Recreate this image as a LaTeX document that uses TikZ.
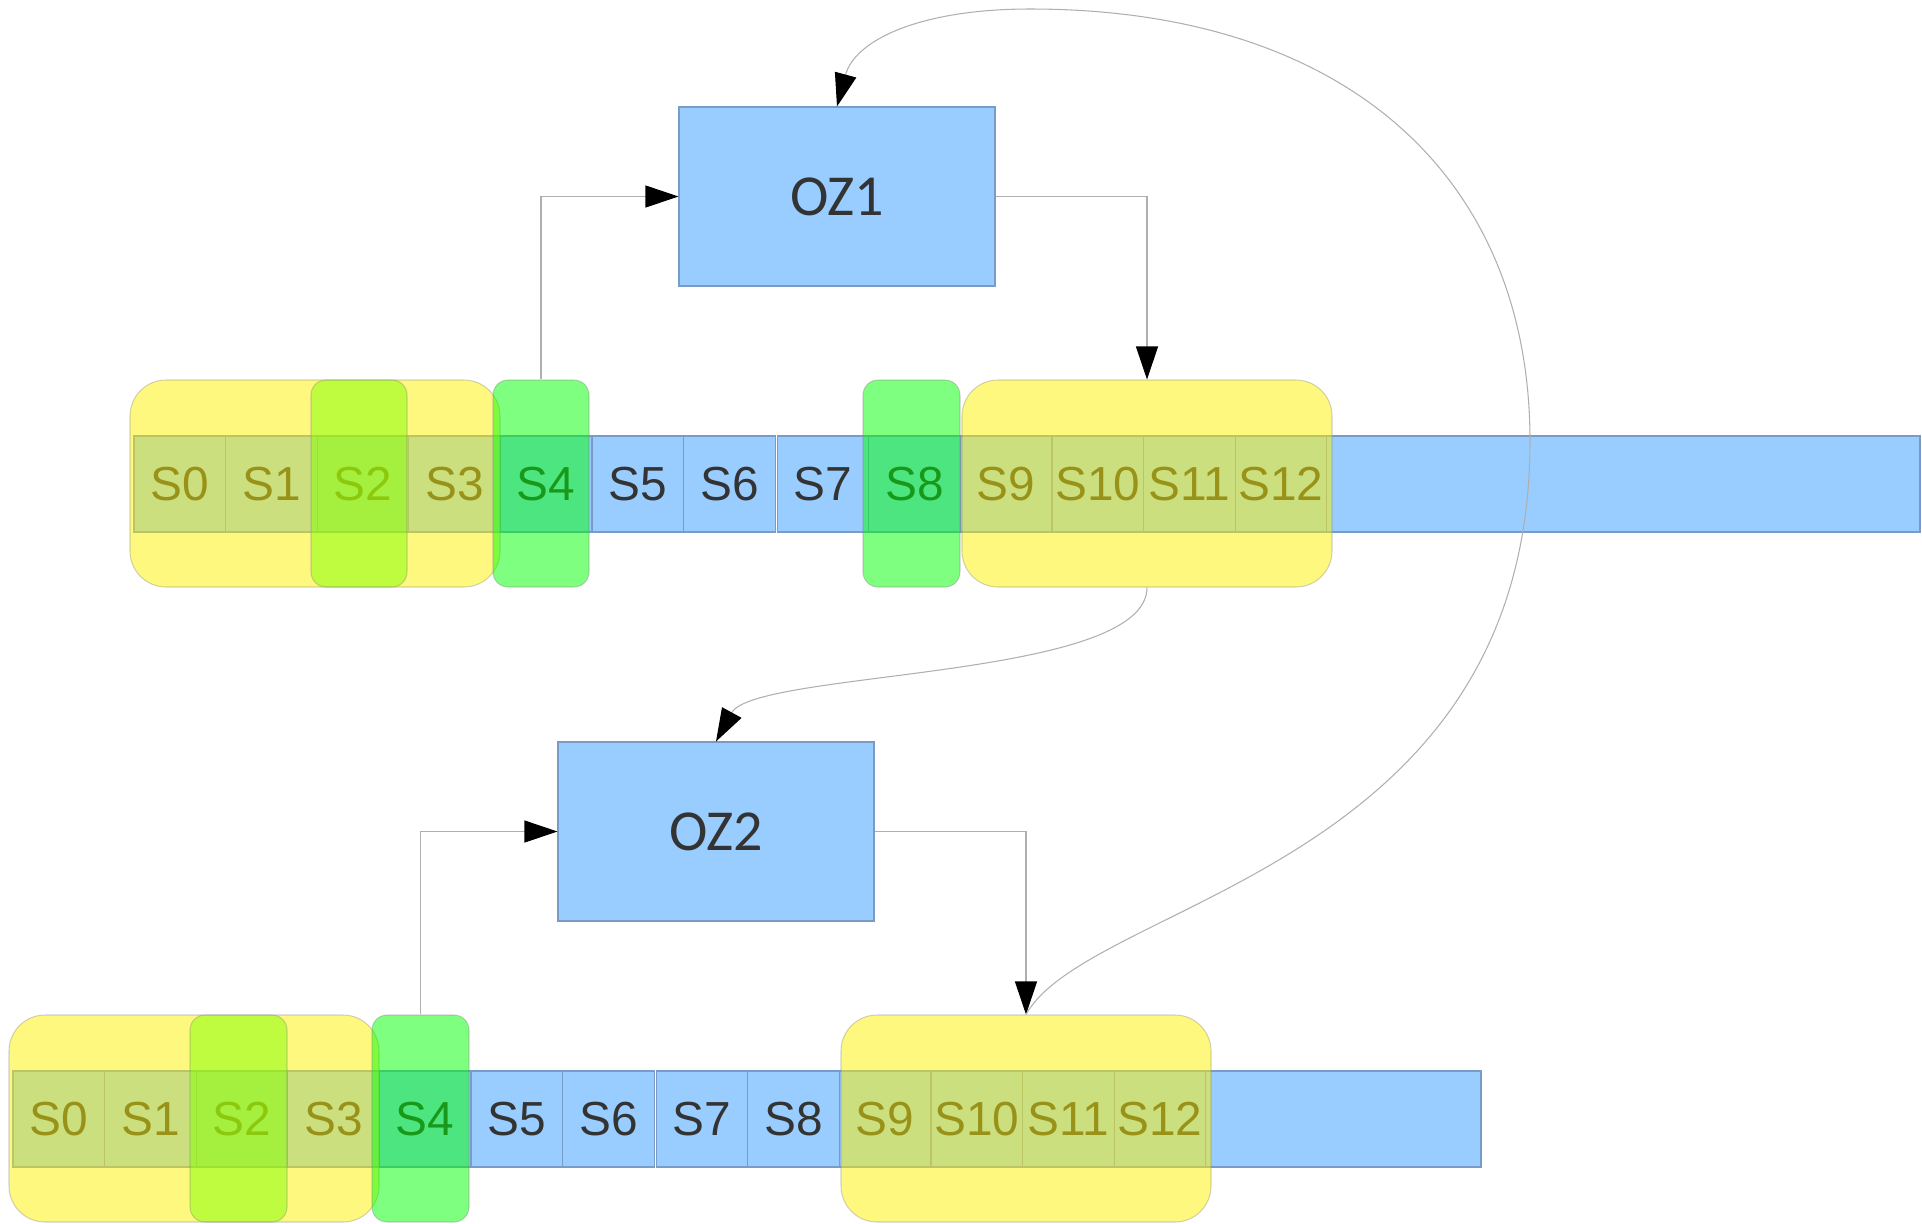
\documentclass[tikz,border=0pt]{standalone}
\usepackage{fontspec}
\usetikzlibrary{arrows.meta}
\newfontfamily\slotfont{Liberation Sans}
\newfontfamily\ozfont{Carlito}
\definecolor{slotBlue}{RGB}{153,204,255}
\definecolor{slotLine}{RGB}{120,155,200}
\definecolor{slotText}{RGB}{51,51,51}
\definecolor{linkGray}{RGB}{175,175,175}
\definecolor{winLime}{RGB}{128,255,0}
\tikzstyle{slot} = [draw=slotLine, line width=0.3pt, fill=slotBlue, rectangle, inner sep=0pt, minimum height=0.96cm, minimum width=0.916cm, text=slotText, font=\slotfont\fontsize{13.6}{16}\selectfont]
\tikzstyle{oz} = [draw=slotLine, line width=0.3pt, fill=slotBlue, rectangle, minimum height=1.79cm, minimum width=3.16cm, text=slotText, font=\ozfont\fontsize{16.5}{20}\selectfont]
\tikzstyle{window} = [draw=black!50, draw opacity=0.35, line width=0.3pt, fill=yellow, fill opacity=0.5, rectangle, rounded corners=0.36cm, minimum height=2.07cm, minimum width=3.70cm]
\tikzstyle{halo} = [window, fill=green, rounded corners=0.15cm, minimum width=0.96cm]
\tikzstyle{pick} = [halo, fill=winLime]
\tikzstyle{link} = [draw=linkGray, line width=0.3pt, ->]

\begin{document}
\begin{tikzpicture}[node distance=0.916cm, >={Triangle[length=0.33cm,width=0.22cm,color=black]}]
    \useasboundingbox (0,0) rectangle (19.22,-12.23);
    % first pass
    \path node [slot] (a0) at (1.798,-4.84) {S0}
          node [slot, right of=a0] (a1) {S1}
          node [slot, right of=a1] (a2) {S2}
          node [slot, right of=a2] (a3) {S3}
          node [slot, right of=a3] (a4) {S4}
          node [slot, right of=a4] (a5) {S5}
          node [slot, right of=a5] (a6) {S6}
          node [slot, right of=a6, xshift=0.02cm] (a7) {S7}
          node [slot, right of=a7] (a8) {S8}
          node [slot, right of=a8] (a9) {S9}
          node [slot, right of=a9] (a10) {S10}
          node [slot, right of=a10] (a11) {S11}
          node [slot, right of=a11] (a12) {S12}
          node [slot, minimum width=5.932cm] (atail) at (16.234,-4.84) {};
    % second pass
    \path node [slot] (b0) at (0.588,-11.19) {S0}
          node [slot, right of=b0] (b1) {S1}
          node [slot, right of=b1] (b2) {S2}
          node [slot, right of=b2] (b3) {S3}
          node [slot, right of=b3] (b4) {S4}
          node [slot, right of=b4] (b5) {S5}
          node [slot, right of=b5] (b6) {S6}
          node [slot, right of=b6, xshift=0.02cm] (b7) {S7}
          node [slot, right of=b7] (b8) {S8}
          node [slot, right of=b8] (b9) {S9}
          node [slot, right of=b9] (b10) {S10}
          node [slot, right of=b10] (b11) {S11}
          node [slot, right of=b11] (b12) {S12}
          node [slot, minimum width=2.752cm] (btail) at (13.434,-11.19) {};

    \node [oz] (oz1) at (8.37,-1.965) {OZ1};
    \node [oz] (oz2) at (7.16,-8.315) {OZ2};

    % windows over the slots
    \node [window] (ya) at (3.15,-4.835) {};
    \node [pick] (pa) at (3.59,-4.835) {};
    \node [halo] (ga) at (5.41,-4.835) {};
    \node [halo, minimum width=0.97cm] (ha) at (9.115,-4.835) {};
    \node [window] (yb) at (11.47,-4.835) {};

    \node [window] (yc) at (1.94,-11.185) {};
    \node [pick, minimum width=0.97cm] (pc) at (2.385,-11.185) {};
    \node [halo, minimum width=0.97cm] (gc) at (4.205,-11.185) {};
    \node [window] (yd) at (10.26,-11.185) {};

    \draw [link] (ga.north) |- (oz1.west);
    \draw [link] (oz1.east) -| (yb.north);
    \draw [link] (yb.south) .. controls (11.47,-6.8) and (7.55,-6.7) .. (oz2.north);
    \draw [link] (gc.north) |- (oz2.west);
    \draw [link] (oz2.east) -| (yd.north);
    %\draw [link] (yd.north) to[out=60,in=80] (oz1.north);
    \draw [link] (yd.north) .. controls (10.9,-9.0) and (15.3,-8.7) .. (15.3,-4.41)
                 .. controls (15.3,-1.8) and (13.5,-0.09) .. (10.3,-0.09)
                 .. controls (9.2,-0.09) and (8.55,-0.4) .. (oz1.north);
\end{tikzpicture}
\end{document}
